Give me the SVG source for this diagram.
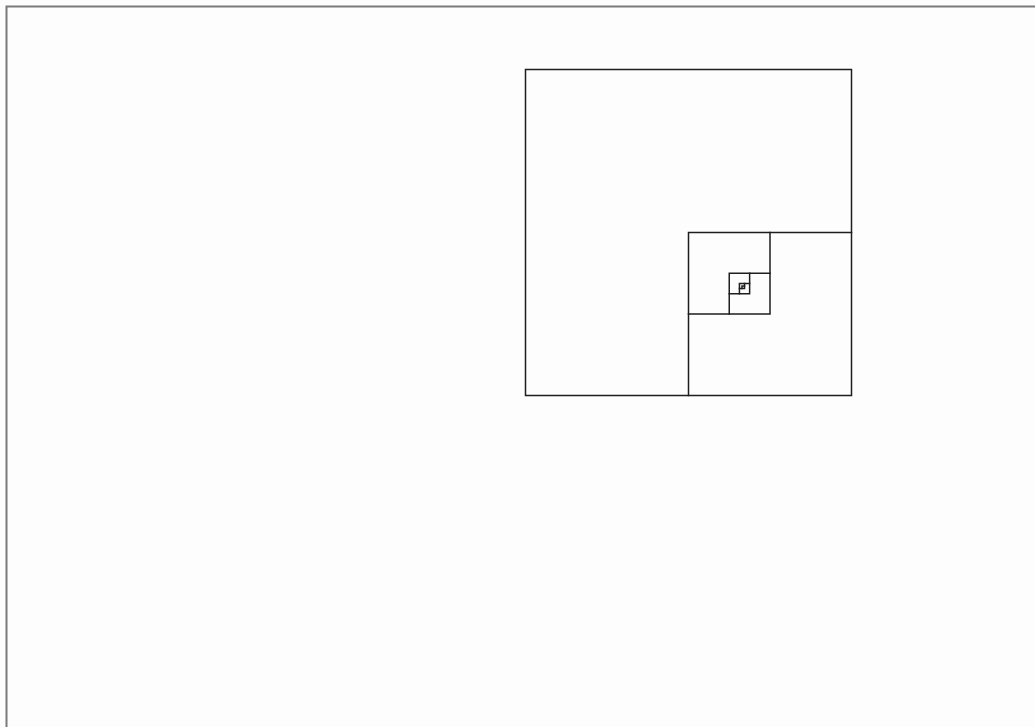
<svg xmlns="http://www.w3.org/2000/svg" width="1035" height="727" viewBox="0 0 1035 727">
<style>
.f{fill:none;stroke:#1e1e1e;stroke-width:1.5;stroke-linecap:square}
</style>
<rect x="0" y="0" width="1035" height="727" fill="#fdfdfd"/>
<path d="M6.5 740 V6.5 H1050" fill="none" stroke="#7a7a7a" stroke-width="2"/>
<g id="spiral" class="f">
<rect x="525.5" y="69.5" width="326" height="326"/>
<path d="M688.5 232.5 H851.5 M688.5 232.5 V395.5"/>
<path d="M688.5 314 H770 M770 232.5 V314"/>
<path d="M729.25 273.25 H770 M729.25 273.25 V314"/>
<path d="M729.25 293.63 H749.63 M749.63 273.25 V293.63"/>
<path d="M739.44 283.44 H749.63 M739.44 283.44 V293.63"/>
<path d="M739.44 288.53 H744.53 M744.53 283.44 V288.53"/>
<path d="M741.98 285.98 H744.53 M741.98 285.98 V288.53"/>
</g>
</svg>
